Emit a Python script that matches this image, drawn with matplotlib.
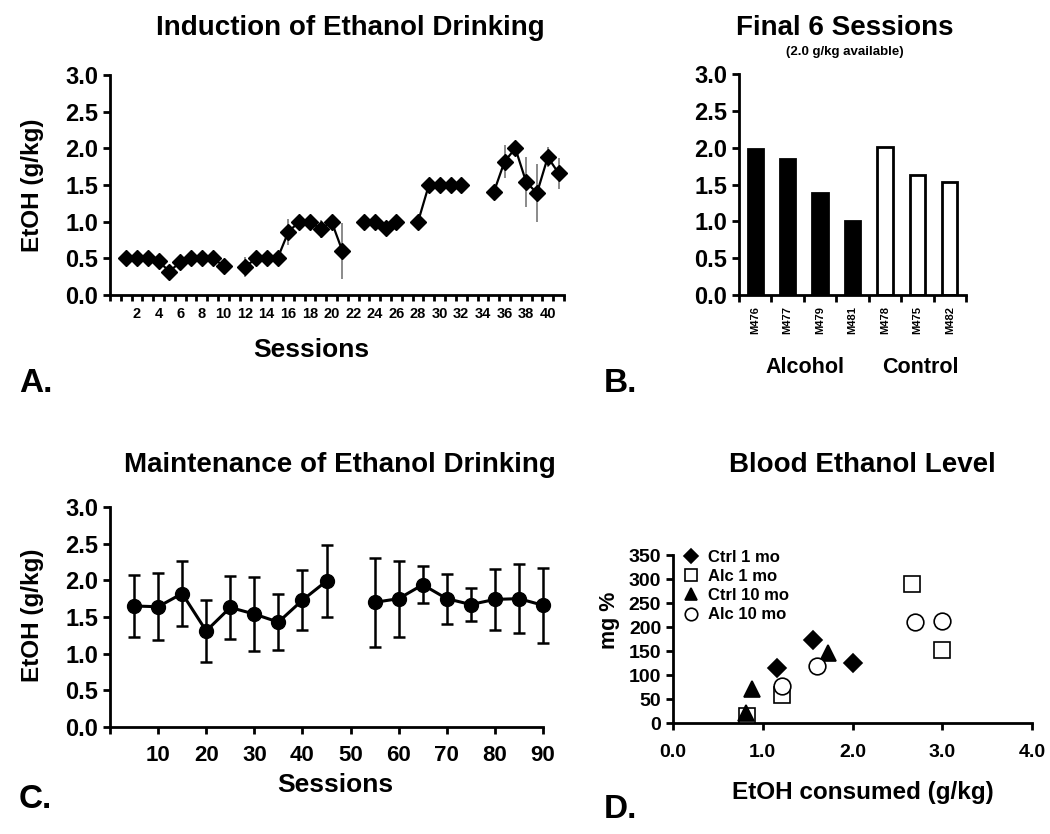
import matplotlib.pyplot as plt
import numpy as np

plt.rcParams['font.family'] = ['Liberation Sans', 'DejaVu Sans']
plt.rcParams['font.weight'] = 'bold'

# Panel A: induction sessions (gaps = no session)
ind_segments = [
    ([1, 2, 3, 4, 5, 6, 7, 8, 9, 10],
     [0.50, 0.50, 0.50, 0.46, 0.32, 0.45, 0.50, 0.50, 0.50, 0.40],
     [0.0, 0.0, 0.0, 0.02, 0.05, 0.03, 0.0, 0.0, 0.0, 0.02]),
    ([12, 13, 14, 15, 16, 17, 18, 19, 20, 21],
     [0.38, 0.50, 0.50, 0.50, 0.86, 1.00, 1.00, 0.90, 1.00, 0.60],
     [0.14, 0.0, 0.0, 0.0, 0.18, 0.0, 0.0, 0.12, 0.0, 0.38]),
    ([23, 24, 25, 26],
     [1.00, 1.00, 0.91, 1.00],
     [0.0, 0.0, 0.02, 0.0]),
    ([28, 29, 30, 31, 32],
     [1.00, 1.50, 1.50, 1.50, 1.50],
     [0.0, 0.0, 0.0, 0.0, 0.0]),
    ([35, 36, 37, 38, 39, 40, 41],
     [1.40, 1.82, 2.00, 1.54, 1.39, 1.88, 1.66],
     [0.10, 0.22, 0.0, 0.34, 0.39, 0.14, 0.21]),
]

# Panel B: final 6 sessions
monkeys = ['M476', 'M477', 'M479', 'M481', 'M478', 'M475', 'M482']
final_vals = [1.98, 1.85, 1.39, 1.01, 2.01, 1.63, 1.53]
is_alcohol = [True, True, True, True, False, False, False]

# Panel C: maintenance
maint_segments = [
    ([5, 10, 15, 20, 25, 30, 35, 40, 45],
     [1.65, 1.64, 1.82, 1.31, 1.63, 1.54, 1.43, 1.73, 1.99],
     [0.42, 0.46, 0.44, 0.42, 0.43, 0.50, 0.38, 0.41, 0.49]),
    ([55, 60, 65, 70, 75, 80, 85, 90],
     [1.70, 1.75, 1.94, 1.75, 1.67, 1.74, 1.75, 1.66],
     [0.61, 0.52, 0.25, 0.34, 0.22, 0.42, 0.47, 0.51]),
]

# Panel D: blood ethanol
bec_groups = ['Ctrl 1 mo', 'Alc 1 mo', 'Ctrl 10 mo', 'Alc 10 mo']
bec_x = [[1.16, 1.56, 2.0], [0.82, 1.22, 2.66, 3.0], [0.81, 0.88, 1.73], [1.21, 1.61, 2.70, 3.0]]
bec_y = [[115, 173, 124], [15, 59, 290, 152], [20, 70, 146], [77, 118, 211, 213]]
bec_marker = ['D', 's', '^', 'o']
bec_fill = ['black', 'white', 'black', 'white']
bec_ms = [9, 11, 11, 12]

W, H = 1050, 834
fig = plt.figure(figsize=(10.5, 8.34), dpi=100)


def box(l, t, r, b):
    return [l / W, 1 - b / H, (r - l) / W, (b - t) / H]


def style(ax):
    for s in ['top', 'right']:
        ax.spines[s].set_visible(False)
    for s in ['left', 'bottom']:
        ax.spines[s].set_linewidth(2)
    ax.tick_params(width=2, length=5, direction='out')


def ftext(x, y, s, size, **kw):
    fig.text(x / W, 1 - y / H, s, fontsize=size, fontweight='bold',
             ha=kw.pop('ha', 'center'), va=kw.pop('va', 'center'), **kw)


yt = np.arange(0, 3.01, 0.5)
ytl = [f'{v:.1f}' for v in yt]

# ---- A
axA = fig.add_axes(box(110, 75, 564, 295))
style(axA)
for xs, ys, es in ind_segments:
    axA.errorbar(xs, ys, yerr=es, fmt='none', ecolor='#777777', elinewidth=1.2, clip_on=False)
    axA.plot(xs, ys, color='black', lw=1.6, marker='D', ms=8.5, clip_on=False)
axA.set_xlim(-0.5, 41.5)
axA.set_ylim(0, 3.0)
axA.set_yticks(yt)
axA.set_yticklabels(ytl, fontsize=17, fontweight='bold')
axA.set_xticks(np.arange(2, 41, 2))
axA.set_xticklabels([str(v) for v in range(2, 41, 2)], fontsize=10.5, fontweight='bold')
axA.set_xticks(np.arange(-0.5, 41.6, 1), minor=True)
axA.tick_params(axis='x', which='major', length=0, pad=9)
axA.tick_params(axis='x', which='minor', length=4, width=2)

ftext(350, 28, 'Induction of Ethanol Drinking', 20)
ftext(311, 350, 'Sessions', 19)
ftext(33, 185, 'EtOH (g/kg)', 17.5, rotation=90)
ftext(19, 383, 'A.', 24, ha='left')

# ---- B
axB = fig.add_axes(box(739, 74, 966, 295))
style(axB)
pos = np.arange(len(monkeys))
axB.bar(pos, final_vals, width=0.47,
        color=['black' if a else 'white' for a in is_alcohol],
        edgecolor='black', linewidth=2)
axB.set_xlim(-0.5, len(monkeys) - 0.5)
axB.set_ylim(0, 3.0)
axB.set_yticks(yt)
axB.set_yticklabels(ytl, fontsize=17, fontweight='bold')
axB.set_xticks(pos)
axB.set_xticklabels(monkeys, rotation=90, fontsize=8, fontweight='bold')
axB.set_xticks(np.arange(-0.5, len(monkeys), 1), minor=True)
axB.tick_params(axis='x', which='major', length=0, pad=8)
axB.tick_params(axis='x', which='minor', length=5, width=2)

ftext(845, 28, 'Final 6 Sessions', 20)
ftext(845, 52, '(2.0 g/kg available)', 9.5)
ftext(805, 368, 'Alcohol', 15.5)
ftext(920, 368, 'Control', 15.5)
ftext(604, 383, 'B.', 24, ha='left')

# ---- C
axC = fig.add_axes(box(110, 507, 543, 727))
style(axC)
for xs, ys, es in maint_segments:
    axC.errorbar(xs, ys, yerr=es, color='black', lw=2.2, marker='o', ms=10,
                 elinewidth=1.8, capsize=4, capthick=1.8, clip_on=False)
axC.set_xlim(0, 90)
axC.set_ylim(0, 3.0)
axC.set_yticks(yt)
axC.set_yticklabels(ytl, fontsize=17, fontweight='bold')
axC.set_xticks(np.arange(0, 91, 10))
axC.set_xticklabels([''] + [str(v) for v in range(10, 91, 10)], fontsize=16, fontweight='bold')
axC.tick_params(axis='x', pad=8)

ftext(340, 465, 'Maintenance of Ethanol Drinking', 20)
ftext(335, 785, 'Sessions', 19)
ftext(33, 615, 'EtOH (g/kg)', 17.5, rotation=90)
ftext(19, 800, 'C.', 24, ha='left')

# ---- D
axD = fig.add_axes(box(673, 555, 1032, 723))
style(axD)
for name, xs, ys, mk, fc, ms in zip(bec_groups, bec_x, bec_y, bec_marker, bec_fill, bec_ms):
    axD.plot(xs, ys, ls='none', marker=mk, ms=ms, mfc=fc, mec='black', mew=1.2, label=name)
axD.set_xlim(0, 4.0)
axD.set_ylim(0, 350)
axD.set_yticks(np.arange(0, 351, 50))
axD.set_yticklabels([str(v) for v in range(0, 351, 50)], fontsize=14, fontweight='bold')
axD.set_xticks(np.arange(0, 4.01, 1.0))
axD.set_xticklabels([f'{v:.1f}' for v in np.arange(0, 4.01, 1.0)], fontsize=14, fontweight='bold')
axD.tick_params(axis='x', pad=10)
axD.legend(loc='upper left', bbox_to_anchor=(0.0, 1.09), frameon=False,
           prop={'size': 12, 'weight': 'bold'}, markerscale=0.75,
           handlelength=1.0, handletextpad=0.5, labelspacing=0.25, borderaxespad=0.2)

ftext(862, 465, 'Blood Ethanol Level', 20)
ftext(863, 792, 'EtOH consumed (g/kg)', 17.5)
ftext(609, 620, 'mg %', 15.5, rotation=90)
ftext(604, 810, 'D.', 24, ha='left')

fig.savefig('out.png', dpi=100)
